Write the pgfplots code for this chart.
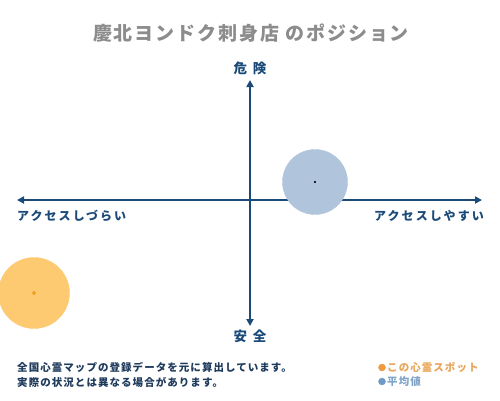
\documentclass[border=0pt]{standalone}
\usepackage{pgfplots}
\pgfplotsset{compat=1.18}
\usepackage{fontspec}
\usetikzlibrary{arrows.meta}
\setmainfont{Noto Sans CJK JP}
\newfontfamily\titlefont[LetterSpace=10]{Noto Sans CJK JP}
\newfontfamily\sidefont[LetterSpace=17]{Noto Sans CJK JP}
\newfontfamily\notefont[LetterSpace=10]{Noto Sans CJK JP}
\definecolor{axisblue}{HTML}{1B4A78}
\definecolor{avgfill}{HTML}{B0C4DB}
\definecolor{spotfill}{HTML}{FDCA72}
\definecolor{spotdot}{HTML}{F0A023}
\definecolor{titlegray}{HTML}{8C8C8C}
\definecolor{notenavy}{HTML}{1F3B5C}
\definecolor{legorange}{HTML}{EE9A3E}
\definecolor{legorangetext}{HTML}{E8A55A}
\definecolor{legblue}{HTML}{6E9BC5}
\definecolor{legbluetext}{HTML}{7FA3C6}
\begin{document}
\begin{tikzpicture}
\begin{axis}[
    scale only axis,
    width=500pt, height=400pt,
    xmin=0, xmax=500, ymin=0, ymax=400,
    y dir=reverse,
    hide axis,
]
% bubbles: average and this spot
\addplot[only marks, mark=*, color=avgfill, mark size=32.5]
    coordinates {(315,182)};
\addplot[only marks, mark=*, color=spotfill, mark size=35.5]
    coordinates {(34,293)};
\addplot[only marks, mark=*, color=black, mark size=0.9]
    coordinates {(315,182)};
\addplot[only marks, mark=*, color=spotdot, mark size=1.8]
    coordinates {(34,293)};

% cross axes
\draw[axisblue, line width=2.2pt, {Triangle[length=7pt,width=7pt]}-{Triangle[length=7pt,width=7pt]}]
    (axis cs:17,200) -- (axis cs:482,200);
\draw[axisblue, line width=2.2pt, {Triangle[length=7pt,width=7pt]}-{Triangle[length=7pt,width=7pt]}]
    (axis cs:250,80) -- (axis cs:250,326);

% texts
\node[titlegray, font=\titlefont\fontsize{19}{22}\selectfont\bfseries] at (axis cs:251,33)
    {慶北ヨンドク刺身店 のポジション};
\node[axisblue, font=\fontsize{13.5}{15}\selectfont\bfseries] at (axis cs:250,68) {危\hspace{6pt}険};
\node[axisblue, font=\fontsize{13.5}{15}\selectfont\bfseries] at (axis cs:250,336) {安\hspace{6pt}全};
\node[axisblue, anchor=west, inner sep=0pt, font=\sidefont\fontsize{12}{14}\selectfont\bfseries]
    at (axis cs:17,216) {アクセスしづらい};
\node[axisblue, anchor=east, inner sep=0pt, font=\sidefont\fontsize{12}{14}\selectfont\bfseries]
    at (axis cs:484,216) {アクセスしやすい};

\node[notenavy, anchor=west, inner sep=0pt, font=\notefont\fontsize{10.5}{12}\selectfont\bfseries]
    at (axis cs:17,367) {全国心霊マップの登録データを元に算出しています。};
\node[notenavy, anchor=west, inner sep=0pt, font=\notefont\fontsize{10.5}{12}\selectfont\bfseries]
    at (axis cs:17,382) {実際の状況とは異なる場合があります。};

% legend
\addplot[only marks, mark=*, color=legorange, mark size=3.5]
    coordinates {(382,367.5)};
\addplot[only marks, mark=*, color=legblue, mark size=3.5]
    coordinates {(382,381.5)};
\node[legorangetext, anchor=west, inner sep=0pt, font=\notefont\fontsize{10.5}{12}\selectfont\bfseries]
    at (axis cs:387,367.5) {この心霊スポット};
\node[legbluetext, anchor=west, inner sep=0pt, font=\notefont\fontsize{10.5}{12}\selectfont\bfseries]
    at (axis cs:387,381.5) {平均値};
\end{axis}
\pgfresetboundingbox
\path (current axis.south west) rectangle (current axis.north east);
\end{tikzpicture}
\end{document}
